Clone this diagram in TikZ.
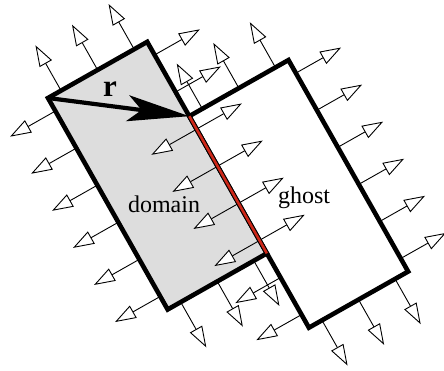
\documentclass[tikz,border=0pt]{standalone}
\usepackage{fontspec}
\setmainfont{Liberation Serif}
\usetikzlibrary{arrows.meta}
\definecolor{domgray}{RGB}{221,221,221}
\definecolor{edgered}{RGB}{205,40,25}
\begin{document}
\begin{tikzpicture}[x=1pt,y=1pt,
  normal/.style={line width=0.9pt, -{Triangle[length=21pt,width=14pt,fill=white,line width=0.9pt]}},
  outline/.style={line width=4.6pt, line join=miter},
  rvec/.style={line width=4.2pt, -{Stealth[length=62pt,width=26pt,inset=14pt]}},
  lbl/.style={anchor=base, inner sep=0pt, font=\fontsize{24}{24}\selectfont},
]
\useasboundingbox (0,0) rectangle (444,-370);
\begin{scope}[shift={(48,-98)}, rotate=29.5]
  \def\W{114}
  \def\H{243}
  \def\L{52}
  \def\G{85.4}
  \coordinate (A) at (0,0);
  \coordinate (B) at (\W,0);
  \coordinate (C) at (\W,-\H);
  \coordinate (D) at (0,-\H);
  \coordinate (E) at (\W,-\G);
  \coordinate (F) at (2*\W,-\G);
  \coordinate (G) at (2*\W,-\G-\H);
  \coordinate (Hc) at (\W,-\G-\H);
  \fill[domgray] (A) -- (B) -- (C) -- (D) -- cycle;
  \foreach \dx/\dy in {0/0, 114/-85.4} {
    \begin{scope}[shift={(\dx,\dy)}]
      \foreach \u in {15,57,99} {
        \draw[normal] (\u,0) -- (\u,\L);
        \draw[normal] (\u,-\H) -- (\u,-\H-\L);
      }
      \foreach \k in {0,...,5} {
        \pgfmathsetmacro\v{-15-\k*42.6}
        \draw[normal] (0,\v) -- (-\L,\v);
        \draw[normal] (\W,\v) -- (\W+\L,\v);
      }
    \end{scope}
  }
  \draw[outline] (A) -- (B) -- (C) -- (D) -- cycle;
  \draw[outline] (E) -- (F) -- (G) -- (Hc) -- cycle;
  \draw[edgered, line width=2.6pt] (E) -- (C);
  \draw[rvec] (A) -- (E);
\end{scope}
\node[anchor=base, inner sep=0pt, font=\bfseries\fontsize{31}{31}\selectfont] (rlab) at (110,-96) {r};
\node[lbl] (dom) at (164,-212) {domain};
\node[lbl] (gh) at (304,-203) {ghost};
\end{tikzpicture}
\end{document}
